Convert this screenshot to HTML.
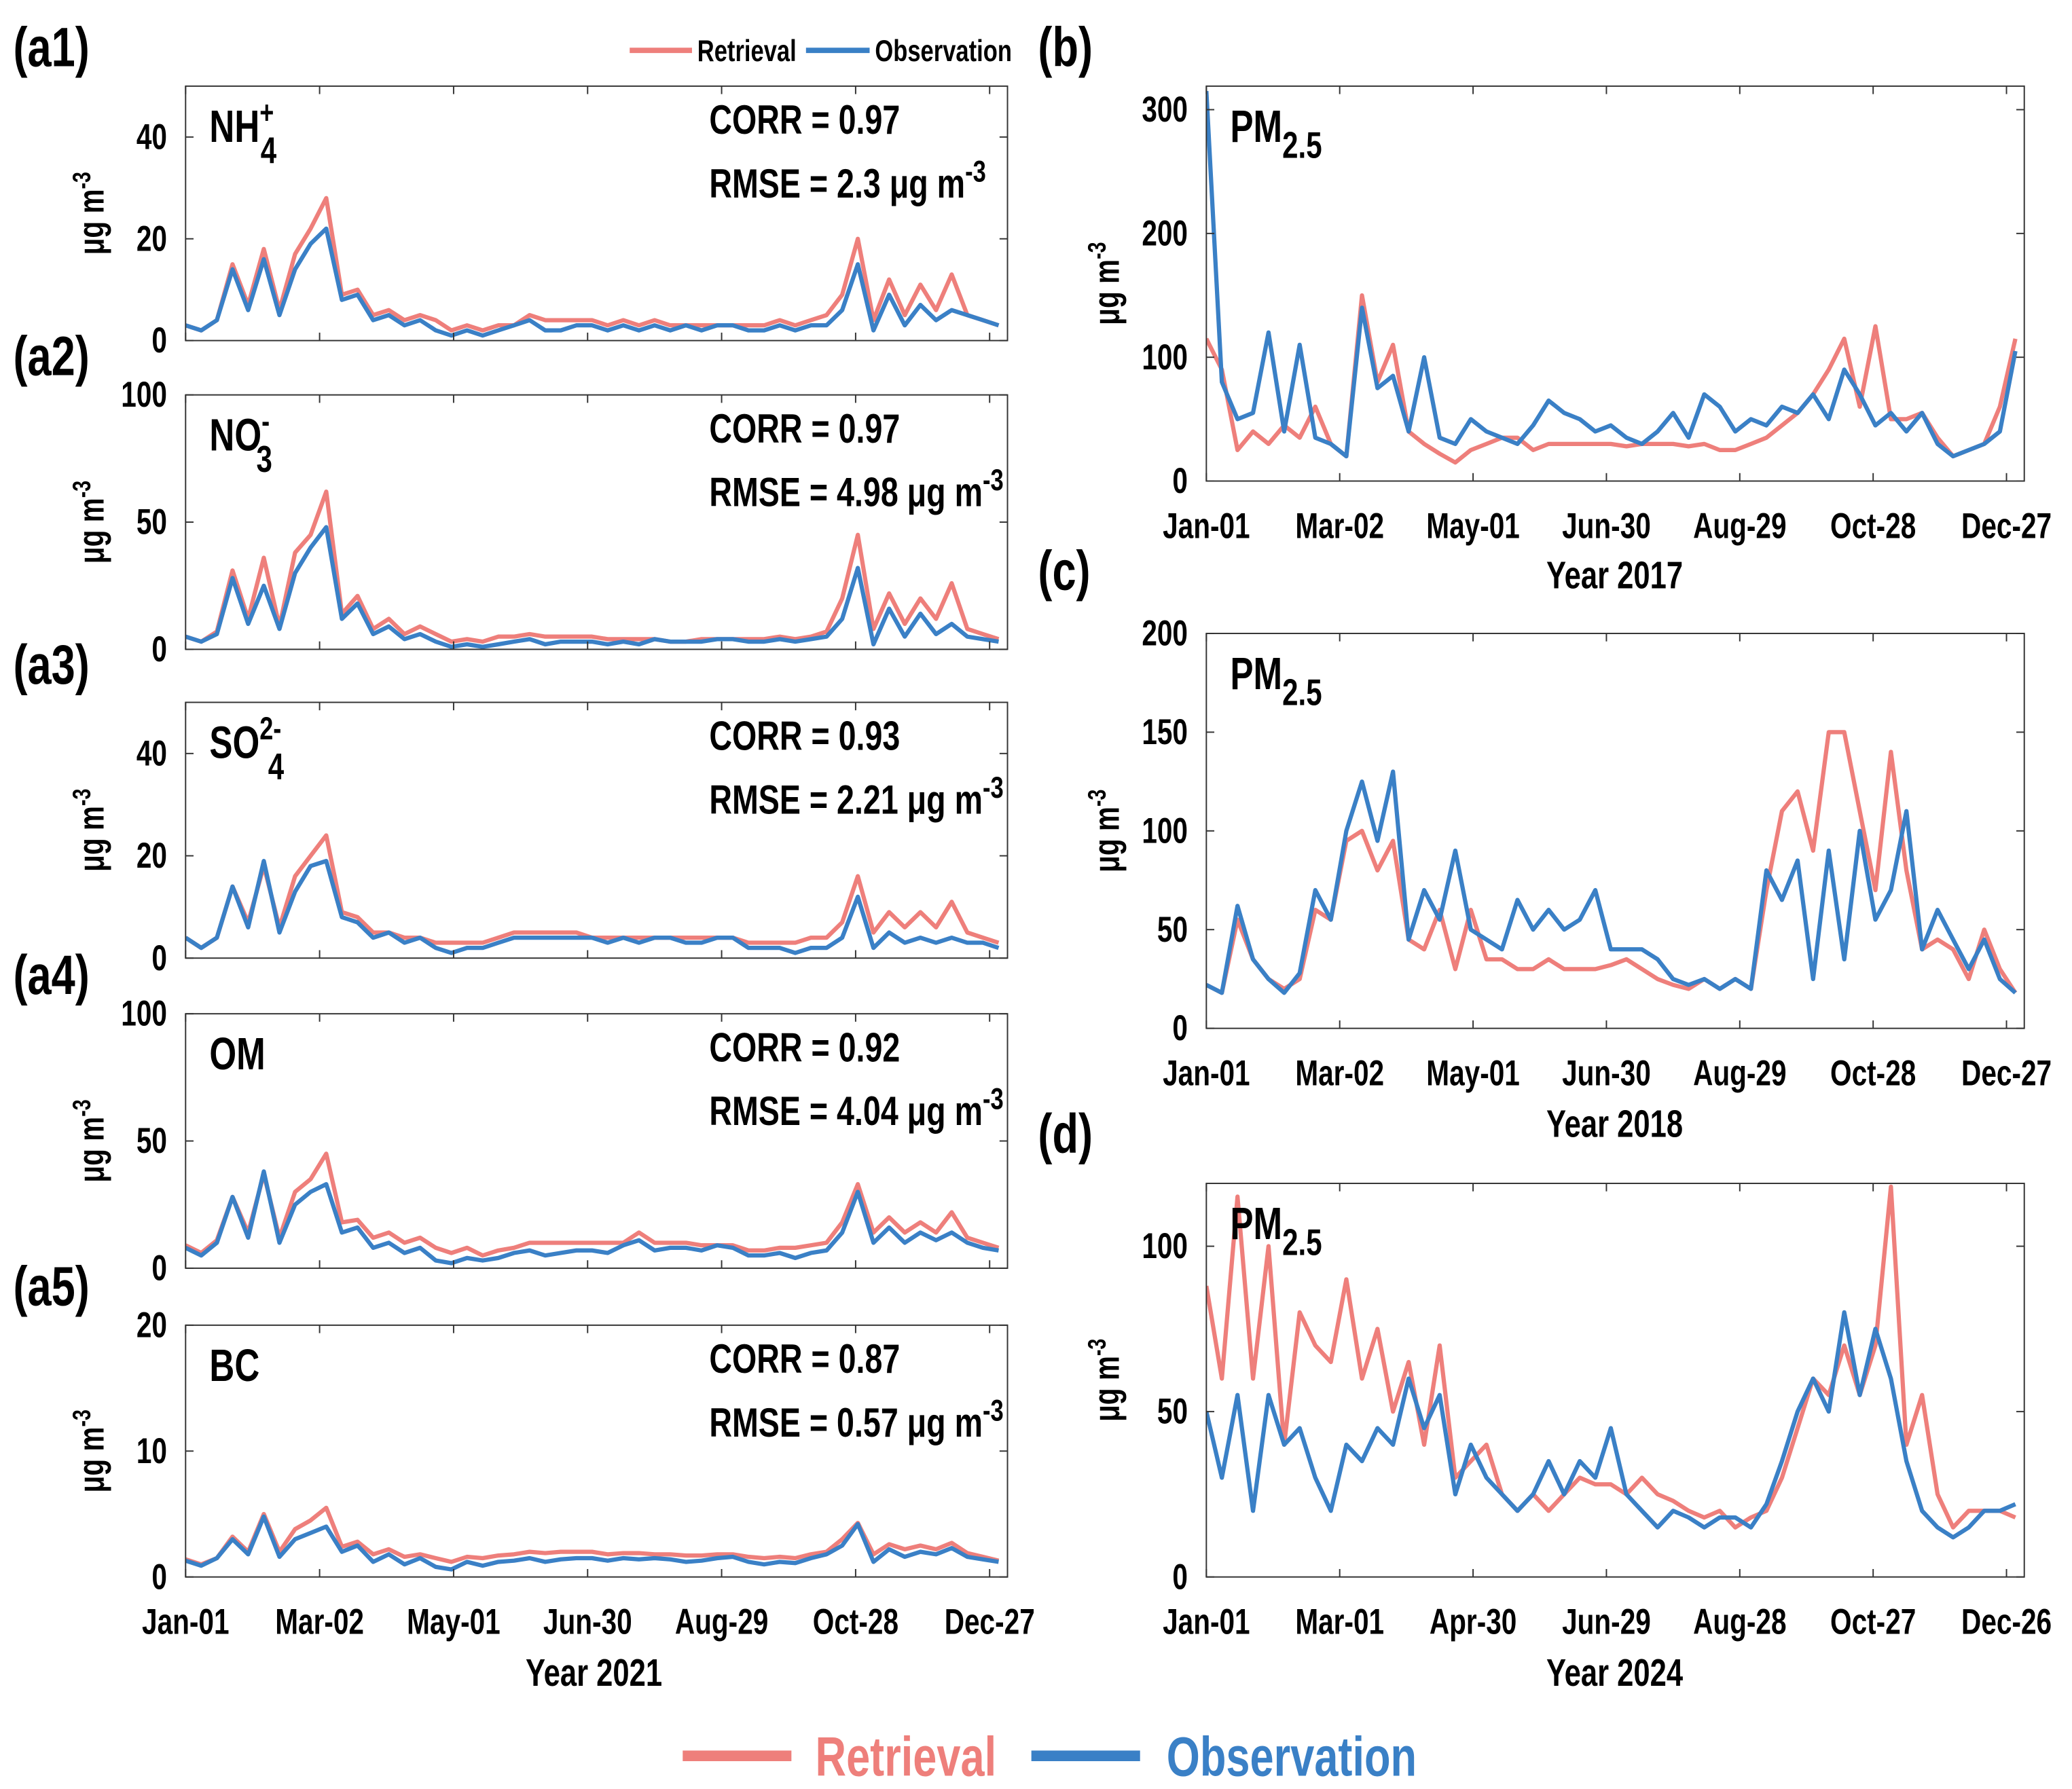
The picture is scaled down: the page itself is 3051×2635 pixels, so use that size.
<!DOCTYPE html>
<html><head><meta charset="utf-8">
<style>
html,body{margin:0;padding:0;background:#fff;}
svg{display:block;font-family:"Liberation Sans Narrow","Liberation Sans",sans-serif;font-weight:bold;}
</style></head>
<body>
<svg id="fig" xmlns="http://www.w3.org/2000/svg" width="3051" height="2635" viewBox="0 0 1563 1350" preserveAspectRatio="none">
  <g id="static">
    <text x="10" y="50" font-size="42">(a1)</text>
    <text x="10" y="283" font-size="42">(a2)</text>
    <text x="10" y="516" font-size="42">(a3)</text>
    <text x="10" y="750" font-size="42">(a4)</text>
    <text x="10" y="985" font-size="42">(a5)</text>
    <text x="783" y="50" font-size="42">(b)</text>
    <text x="783" y="445" font-size="42">(c)</text>
    <text x="783" y="870" font-size="42">(d)</text>
    <g>
      <line x1="475" y1="38" x2="522" y2="38" stroke="#ee7f7b" stroke-width="4"/>
      <text x="526" y="46" font-size="23">Retrieval</text>
      <line x1="608" y1="38" x2="656" y2="38" stroke="#3a80c6" stroke-width="4"/>
      <text x="660" y="46" font-size="23">Observation</text>
    </g>
    <g>
      <line x1="515" y1="1325" x2="597" y2="1325" stroke="#ee7f7b" stroke-width="8"/>
      <text x="615" y="1340" font-size="42" fill="#ee7f7b">Retrieval</text>
      <line x1="778" y1="1325" x2="860" y2="1325" stroke="#3a80c6" stroke-width="8"/>
      <text x="880" y="1340" font-size="42" fill="#3a80c6">Observation</text>
    </g>
    <text x="448" y="1272" font-size="29" text-anchor="middle">Year 2021</text>
    <text x="1218" y="444" font-size="29" text-anchor="middle">Year 2017</text>
    <text x="1218" y="858" font-size="29" text-anchor="middle">Year 2018</text>
    <text x="1218" y="1272" font-size="29" text-anchor="middle">Year 2024</text>
  </g>
  <g id="charts"></g>
</svg>
<script>
// ---- data (weekly samples, day = 7*i) ----
const nh4Obs=[3,2,4,14,6,16,5,14,19,22,8,9,4,5,3,4,2,1,2,1,2,3,4,2,2,3,3,2,3,2,3,2,3,2,3,3,2,2,3,2,3,3,6,15,2,9,3,7,4,6,5,4,3];
const nh4Ret=[3,2,4,15,7,18,6,17,22,28,9,10,5,6,4,5,4,2,3,2,3,3,5,4,4,4,4,3,4,3,4,3,3,3,3,3,3,3,4,3,4,5,9,20,4,12,5,11,6,13,5,4,3];
const no3Obs=[5,3,6,28,10,25,8,30,40,48,12,18,6,9,4,6,3,1,2,1,2,3,4,2,3,3,3,2,3,2,4,3,3,3,4,4,3,3,4,3,4,5,12,32,2,16,5,14,6,10,5,4,3];
const no3Ret=[5,3,7,31,12,36,9,38,45,62,14,21,8,12,6,9,6,3,4,3,5,5,6,5,5,5,5,4,4,4,4,3,3,4,4,4,4,4,5,4,5,7,20,45,8,22,10,20,12,26,8,6,4];
const so4Obs=[4,2,4,14,6,19,5,13,18,19,8,7,4,5,3,4,2,1,2,2,3,4,4,4,4,4,4,3,4,3,4,4,3,3,4,4,2,2,2,1,2,2,4,12,2,5,3,4,3,4,3,3,2];
const so4Ret=[4,2,4,14,7,18,6,16,20,24,9,8,5,5,4,4,3,3,3,3,4,5,5,5,5,5,4,4,4,4,4,4,4,4,4,4,3,3,3,3,4,4,7,16,5,9,6,9,6,11,5,4,3];
const omObs=[8,5,10,28,12,38,10,25,30,33,14,16,8,10,6,8,3,2,4,3,4,6,7,5,6,7,7,6,9,11,7,8,8,7,9,8,5,5,6,4,6,7,14,30,10,16,10,14,11,14,10,8,7];
const omRet=[9,6,11,28,14,37,12,30,35,45,18,19,12,14,10,12,8,6,8,5,7,8,10,10,10,10,10,10,10,14,10,10,10,9,9,9,7,7,8,8,9,10,18,33,14,20,14,18,14,22,12,10,8];
const bcObs=[1.3,0.9,1.5,3,1.8,4.8,1.6,3,3.5,4,2,2.5,1.2,1.8,1,1.5,0.8,0.6,1.2,0.9,1.2,1.3,1.5,1.2,1.4,1.5,1.5,1.3,1.5,1.4,1.5,1.4,1.2,1.3,1.5,1.6,1.2,1,1.2,1.1,1.5,1.8,2.5,4.2,1.2,2.2,1.6,2,1.8,2.3,1.6,1.4,1.2];
const bcRet=[1.4,1,1.5,3.2,2,5,2,3.8,4.5,5.5,2.4,2.8,1.8,2.2,1.6,1.8,1.5,1.2,1.6,1.5,1.7,1.8,2,1.9,2,2,2,1.8,1.9,1.9,1.8,1.8,1.7,1.7,1.8,1.8,1.6,1.5,1.6,1.5,1.8,2,3,4.3,1.8,2.6,2.2,2.5,2.2,2.7,1.9,1.6,1.3];
const pm17Obs=[315,80,50,55,120,40,110,35,30,20,140,75,85,40,100,35,30,50,40,35,30,45,65,55,50,40,45,35,30,40,55,35,70,60,40,50,45,60,55,70,50,90,70,45,55,40,55,30,20,25,30,40,105];
const pm17Ret=[115,90,25,40,30,45,35,60,30,20,150,80,110,40,30,22,15,25,30,35,35,25,30,30,30,30,30,28,30,30,30,28,30,25,25,30,35,45,55,70,90,115,60,125,50,50,55,35,20,25,30,60,115];
const pm18Obs=[22,18,62,35,25,18,28,70,55,100,125,95,130,45,70,55,90,50,45,40,65,50,60,50,55,70,40,40,40,35,25,22,25,20,25,20,80,65,85,25,90,35,100,55,70,110,40,60,45,30,45,25,18];
const pm18Ret=[22,18,55,35,25,20,25,60,55,95,100,80,95,45,40,60,30,60,35,35,30,30,35,30,30,30,32,35,30,25,22,20,25,20,25,20,70,110,120,90,150,150,110,70,140,80,40,45,40,25,50,30,18];
const pm24Obs=[50,30,55,20,55,40,45,30,20,40,35,45,40,60,45,55,25,40,30,25,20,25,35,25,35,30,45,25,20,15,20,18,15,18,18,15,22,35,50,60,50,80,55,75,60,35,20,15,12,15,20,20,22];
const pm24Ret=[88,60,115,60,100,40,80,70,65,90,60,75,50,65,40,70,30,35,40,25,20,25,20,25,30,28,28,25,30,25,23,20,18,20,15,18,20,30,45,60,55,70,55,70,118,40,55,25,15,20,20,20,18];
const xTicks2021=["Jan-01","Mar-02","May-01","Jun-30","Aug-29","Oct-28","Dec-27"];
const xTicks2017=["Jan-01","Mar-02","May-01","Jun-30","Aug-29","Oct-28","Dec-27"];
const xTicks2024=["Jan-01","Mar-01","Apr-30","Jun-29","Aug-28","Oct-27","Dec-26"];
const stats=[["0.97","2.3"],["0.97","4.98"],["0.93","2.21"],["0.92","4.04"],["0.87","0.57"]];

const NS="http://www.w3.org/2000/svg";
const root=document.getElementById('charts');
function mk(tag,attrs,parent){const e=document.createElementNS(NS,tag);for(const k in attrs)e.setAttribute(k,attrs[k]);(parent||root).appendChild(e);return e;}

const panels=[
 {id:'a1',x0:140,x1:760,y0:65,y1:257,ymax:50,yt:[0,20,40],obs:nh4Obs,ret:nh4Ret,xt:null,sp:'NH',sub:'4',sup:'+',st:0},
 {id:'a2',x0:140,x1:760,y0:298,y1:490,ymax:100,yt:[0,50,100],obs:no3Obs,ret:no3Ret,xt:null,sp:'NO',sub:'3',sup:'-',st:1},
 {id:'a3',x0:140,x1:760,y0:530,y1:723,ymax:50,yt:[0,20,40],obs:so4Obs,ret:so4Ret,xt:null,sp:'SO',sub:'4',sup:'2-',st:2},
 {id:'a4',x0:140,x1:760,y0:765,y1:957,ymax:100,yt:[0,50,100],obs:omObs,ret:omRet,xt:null,sp:'OM',st:3},
 {id:'a5',x0:140,x1:760,y0:1000,y1:1190,ymax:20,yt:[0,10,20],obs:bcObs,ret:bcRet,xt:xTicks2021,sp:'BC',st:4},
 {id:'b',x0:910,x1:1527,y0:65,y1:363,ymax:319,yt:[0,100,200,300],obs:pm17Obs,ret:pm17Ret,xt:xTicks2017,sp:'PM',sub:'2.5'},
 {id:'c',x0:910,x1:1527,y0:478,y1:776,ymax:200,yt:[0,50,100,150,200],obs:pm18Obs,ret:pm18Ret,xt:xTicks2017,sp:'PM',sub:'2.5'},
 {id:'d',x0:910,x1:1527,y0:893,y1:1190,ymax:119,yt:[0,50,100],obs:pm24Obs,ret:pm24Ret,xt:xTicks2024,sp:'PM',sub:'2.5'}
];

panels.forEach(p=>{
  const g=mk('g',{});
  
  
  const xs=d=>p.x0+d*(p.x1-p.x0)/368;
  const ys=v=>p.y1-v*(p.y1-p.y0)/p.ymax;
  const clip=mk('clipPath',{id:'clip-'+p.id},g);
  mk('rect',{x:p.x0,y:p.y0,width:p.x1-p.x0,height:p.y1-p.y0},clip);
  [['ret','#ee7f7b'],['obs','#3a80c6']].forEach(([k,c])=>{
    const pts=p[k].map((v,i)=>xs(i*7).toFixed(1)+','+ys(v).toFixed(1)).join(' ');
    const l=mk('polyline',{points:pts,fill:'none',stroke:c,'stroke-width':3.2,'stroke-linejoin':'round','clip-path':'url(#clip-'+p.id+')'},g);
    
    
  });
  const fr=mk('rect',{x:p.x0,y:p.y0,width:p.x1-p.x0,height:p.y1-p.y0,fill:'none',stroke:'#333','stroke-width':1},g);
  
  
  p.yt.forEach(t=>{
    const y=ys(t);
    mk('line',{x1:p.x0,y1:y,x2:p.x0+6,y2:y,stroke:'#333'},g);
    mk('line',{x1:p.x1,y1:y,x2:p.x1-6,y2:y,stroke:'#333'},g);
    const tx=mk('text',{x:p.x0-14,y:y+9,'font-size':27,'text-anchor':'end'},g);
    tx.textContent=t;
    
    
  });
  for(let i=0;i<7;i++){
    const x=xs(i*60);
    mk('line',{x1:x,y1:p.y1,x2:x,y2:p.y1-6,stroke:'#333'},g);
    mk('line',{x1:x,y1:p.y0,x2:x,y2:p.y0+6,stroke:'#333'},g);
    if(p.xt){
      const tx=mk('text',{x:x,y:p.y1+43,'font-size':27,'text-anchor':'middle'},g);
      tx.textContent=p.xt[i];
      
      
    }
  }
  const ym=(p.y0+p.y1)/2, yl=p.x0-(p.id.length>1?70:74);
  const yt=mk('text',{x:0,y:0,'font-size':27,'text-anchor':'middle',transform:`translate(${yl+8},${ym}) rotate(-90)`},g);
  yt.innerHTML='μg m<tspan dy="-10" font-size="19">-3</tspan>';
  
  
  const sx=p.x0+18, sy=p.y0+42;
  const sp=mk('text',{x:sx,y:sy,'font-size':34},g);
  let h=p.sp;
  if(p.sup&&p.sub){h+=`<tspan dy="-14" font-size="24">${p.sup}</tspan><tspan dx="-13" dy="30" font-size="28">${p.sub}</tspan>`;}
  else if(p.sub){h+=`<tspan dy="12" font-size="28">${p.sub}</tspan>`;}
  sp.innerHTML=h;
  
  
  if(p.st!==undefined){
    const s=stats[p.st];
    const c=mk('text',{x:p.x0+395,y:p.y0+36,'font-size':31},g);
    c.textContent='CORR = '+s[0];
    
    
    const r=mk('text',{x:p.x0+395,y:p.y0+84,'font-size':31},g);
    r.innerHTML='RMSE = '+s[1]+' μg m<tspan dy="-12" font-size="23">-3</tspan>';
    
    
  }
});
// condense all text horizontally (reference uses a condensed face)
document.querySelectorAll('#fig text').forEach(t=>{
  const x=t.getAttribute('x')||0, y=t.getAttribute('y')||0, tr=t.getAttribute('transform')||'';
  t.setAttribute('x',0); t.setAttribute('y',0);
  t.setAttribute('transform',`translate(${x},${y}) ${tr} scale(0.77,1)`);
});
</script>
</body></html>
